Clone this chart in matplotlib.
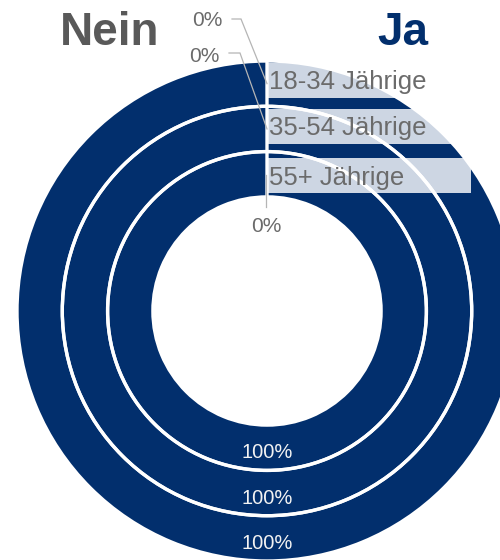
import matplotlib
matplotlib.use('Agg')
import matplotlib.pyplot as plt
from matplotlib.patches import Rectangle, Circle

# ------------------------------------------------------------------ data
groups = ['18-34 Jährige', '35-54 Jährige', '55+ Jährige']
nein = [0, 0, 0]
ja = [100, 100, 100]
series = ['Nein', 'Ja']

NAVY = '#022f6d'
NEIN_COL = '#bdbdbd'
BOX = '#cdd6e3'
TXT = '#6b6b6b'
LEAD = '#b5b5b5'

# -------------------------------------------------------------- geometry
# axes in pixel units (y up), figure is 500 x 560 px
W, H = 500, 560
CX, CY = 267, 249           # ring centre
R0, RW = 250, 45.3          # outer radius, ring width
radii = [R0 - k * RW for k in range(len(groups))]

fig = plt.figure(figsize=(W / 100, H / 100), dpi=100)
ax = fig.add_axes([0, 0, 1, 1])

# fill pass
for k, r in enumerate(radii):
    ax.pie([nein[k], ja[k]], radius=r, center=(CX, CY), startangle=90,
           counterclock=False, colors=[NEIN_COL, NAVY], frame=True,
           wedgeprops=dict(width=RW, linewidth=0))

# label boxes, clipped to the outer circle
clip = Circle((CX, CY), R0, transform=ax.transData)
BOX_TOP = [63, 109, 158]     # px from the top
BOX_H, BOX_X, BOX_W = 35, 267, 204
for k, g in enumerate(groups):
    y0 = H - BOX_TOP[k] - BOX_H
    rect = Rectangle((BOX_X, y0), BOX_W, BOX_H, facecolor=BOX,
                     edgecolor='none', zorder=2)
    ax.add_patch(rect)
    rect.set_clip_path(clip)
    ax.text(BOX_X + 2, y0 + BOX_H / 2 - 2, g, fontsize=18.5, color=TXT,
            family='Liberation Sans', ha='left', va='center', zorder=4)

# white separators pass (ring edges + the zero-width "Nein" edge)
for k, r in enumerate(radii):
    wd, _ = ax.pie([nein[k], ja[k]], radius=r, center=(CX, CY),
                   startangle=90, counterclock=False, colors=['none', 'none'],
                   frame=True,
                   wedgeprops=dict(width=RW, edgecolor='white', linewidth=2.4))
    for w in wd:
        w.set_zorder(3)

# "Nein" values: 0 % at the top with leader lines
mid = [r - RW / 2 for r in radii]
lead_lab = [(207, 20), (204, 57), (266, 226)]      # label centres, px
lead_knee = [(232, 241, 19), (229, 240, 53), None]
for k in range(len(groups)):
    ay = CY + mid[k]
    lx, ly = lead_lab[k]
    if lead_knee[k] is not None:
        x0, x1, yk = lead_knee[k]
        ax.plot([x0, x1, CX], [H - yk, H - yk, ay], color=LEAD, lw=0.9,
                zorder=5, solid_joinstyle='miter')
    else:
        ax.plot([CX - 1, CX - 1], [ay - 1, H - 207], color=LEAD, lw=0.9,
                zorder=5)
    ax.text(lx, H - ly, f'{nein[k]}%', fontsize=15, color=TXT,
            family='Liberation Sans', ha='center', va='center', zorder=5)

# "Ja" values at the bottom of each ring
for k in range(len(groups)):
    ax.text(CX, CY - mid[k] - 5, f'{ja[k]}%', fontsize=14.5, color='#f2f2f2',
            family='Liberation Sans', ha='center', va='center', zorder=5)

# headers
ax.text(60, H - 45, series[0], fontsize=33, fontweight='bold',
        color='#595959', family='Liberation Sans', ha='left', va='baseline')
ax.text(428, H - 45, series[1], fontsize=33, fontweight='bold',
        color=NAVY, family='Liberation Sans', ha='right', va='baseline')

ax.set_xlim(0, W)
ax.set_ylim(0, H)
ax.set_aspect('equal')
ax.axis('off')

fig.savefig('out.png', dpi=100)
